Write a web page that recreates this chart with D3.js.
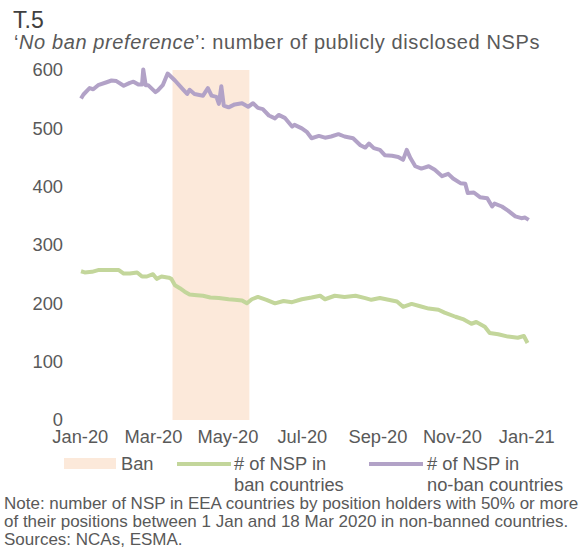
<!DOCTYPE html>
<html>
<head>
<meta charset="utf-8">
<script src="https://cdn.jsdelivr.net/npm/d3@7"></script>
<style>
    body { margin: 0; background: #ffffff; }
    text { font-family: "Liberation Sans", Arial, sans-serif; }
</style>
</head>
<body>
<div id="chart"></div>
<script>
// Ban period (shaded band)
var ban_period = ["2020-03-17", "2020-05-19"];

// # of NSP in ban countries (green)
var ban_dates = ["2020-01-02","2020-01-05","2020-01-11","2020-01-16","2020-01-22","2020-01-27","2020-02-02","2020-02-06","2020-02-11","2020-02-17","2020-02-21","2020-02-25","2020-03-01","2020-03-04","2020-03-08","2020-03-14","2020-03-16","2020-03-19","2020-03-23","2020-03-27","2020-03-31","2020-04-06","2020-04-11","2020-04-17","2020-04-24","2020-05-02","2020-05-07","2020-05-13","2020-05-17","2020-05-21","2020-05-26","2020-06-02","2020-06-09","2020-06-16","2020-06-23","2020-07-01","2020-07-09","2020-07-16","2020-07-20","2020-07-28","2020-08-05","2020-08-14","2020-08-22","2020-08-27","2020-09-03","2020-09-10","2020-09-17","2020-09-22","2020-09-29","2020-10-06","2020-10-13","2020-10-21","2020-10-26","2020-11-04","2020-11-10","2020-11-17","2020-11-21","2020-11-28","2020-12-02","2020-12-09","2020-12-17","2020-12-25","2020-12-30","2021-01-02"];
var ban_values = [255,253,254,257,257,257,257,251,251,253,246,246,250,242,246,244,242,231,226,220,215,214,213,210,209,207,206,205,200,207,211,206,200,204,202,207,210,213,207,213,211,213,209,206,209,206,203,194,199,195,191,189,184,177,173,165,168,160,149,147,143,141,144,132];

// # of NSP in no-ban countries (purple)
var noban_dates = ["2020-01-02","2020-01-04","2020-01-09","2020-01-12","2020-01-16","2020-01-23","2020-01-27","2020-01-31","2020-02-06","2020-02-11","2020-02-14","2020-02-18","2020-02-21","2020-02-22","2020-02-24","2020-02-26","2020-03-03","2020-03-05","2020-03-09","2020-03-13","2020-03-16","2020-03-19","2020-03-25","2020-03-29","2020-03-31","2020-04-04","2020-04-11","2020-04-15","2020-04-18","2020-04-22","2020-04-24","2020-04-26","2020-04-28","2020-05-02","2020-05-07","2020-05-13","2020-05-18","2020-05-22","2020-05-26","2020-05-30","2020-06-04","2020-06-09","2020-06-12","2020-06-17","2020-06-23","2020-06-25","2020-07-01","2020-07-05","2020-07-09","2020-07-15","2020-07-20","2020-07-25","2020-07-31","2020-08-05","2020-08-12","2020-08-18","2020-08-22","2020-08-25","2020-08-29","2020-09-03","2020-09-07","2020-09-13","2020-09-18","2020-09-22","2020-09-25","2020-09-28","2020-10-02","2020-10-07","2020-10-13","2020-10-18","2020-10-24","2020-10-29","2020-11-02","2020-11-08","2020-11-12","2020-11-14","2020-11-19","2020-11-24","2020-11-30","2020-12-04","2020-12-06","2020-12-12","2020-12-17","2020-12-23","2020-12-28","2020-12-31","2021-01-03"];
var noban_values = [551,558,569,567,574,579,582,581,573,578,580,575,575,601,574,574,562,565,574,594,588,582,568,559,566,559,556,569,556,554,542,572,539,536,541,543,537,543,535,533,522,517,523,518,503,506,500,494,483,487,484,486,490,486,483,471,467,474,466,463,454,453,451,446,463,449,435,431,435,429,418,422,414,406,405,389,390,382,380,366,371,366,359,349,346,347,343];

// Axis ticks
var x_tick_dates = ["2020-01-01","2020-03-01","2020-05-01","2020-07-01","2020-09-01","2020-11-01","2021-01-01"];
var y_tick_values = [0, 100, 200, 300, 400, 500, 600];

var width = 588, height = 549;
var grey = "#595959";
var parse = d3.utcParse("%Y-%m-%d");

var svg = d3.select("#chart").append("svg")
    .attr("width", width)
    .attr("height", height);

// Scales
var x_scale = d3.scaleUtc()
    .domain([parse("2020-01-01"), parse("2021-01-01")])
    .range([79.8, 526.3]);

var y_scale = d3.scaleLinear()
    .domain([0, 600])
    .range([420, 70]);

// Ban band
svg.append("rect")
    .attr("x", x_scale(parse(ban_period[0])))
    .attr("y", y_scale(600))
    .attr("width", x_scale(parse(ban_period[1])) - x_scale(parse(ban_period[0])))
    .attr("height", y_scale(0) - y_scale(600))
    .attr("fill", "#fce9da");

// Axes (labels only, no lines)
var x_axis = d3.axisBottom(x_scale)
    .tickValues(x_tick_dates.map(parse))
    .tickSize(0)
    .tickPadding(10)
    .tickFormat(d3.utcFormat("%b-%y"));

var gx = svg.append("g")
    .attr("transform", "translate(0," + y_scale(0) + ")")
    .call(x_axis);

var y_axis = d3.axisLeft(y_scale)
    .tickValues(y_tick_values)
    .tickSize(0)
    .tickPadding(3);

var gy = svg.append("g")
    .attr("transform", "translate(66,0)")
    .call(y_axis);

[gx, gy].forEach(function(g) {
    g.select(".domain").remove();
    g.selectAll("text")
        .attr("fill", grey)
        .style("font-size", "18.3px")
        .style("font-family", "'Liberation Sans', Arial, sans-serif");
});

// Lines
var line = d3.line()
    .x(function(d) { return x_scale(d.date); })
    .y(function(d) { return y_scale(d.value); });

var ban_data = ban_dates.map(function(d, i) { return {date: parse(d), value: ban_values[i]}; });
var noban_data = noban_dates.map(function(d, i) { return {date: parse(d), value: noban_values[i]}; });

svg.append("path")
    .attr("d", line(ban_data))
    .attr("fill", "none")
    .attr("stroke", "#c3d69b")
    .attr("stroke-width", 4)
    .attr("stroke-linejoin", "round");

svg.append("path")
    .attr("d", line(noban_data))
    .attr("fill", "none")
    .attr("stroke", "#b2a2c7")
    .attr("stroke-width", 4)
    .attr("stroke-linejoin", "round");

// Title
svg.append("text")
    .attr("x", 13).attr("y", 28)
    .attr("fill", "#404040")
    .style("font-size", "23px")
    .text("T.5");

var sub = svg.append("text")
    .attr("x", 14).attr("y", 49)
    .attr("fill", grey)
    .style("font-size", "20px")
    .style("letter-spacing", "0.6px");
sub.append("tspan").text("\u2018");
sub.append("tspan").style("font-style", "italic").text("No ban preference");
sub.append("tspan").text("\u2019: number of publicly disclosed NSPs");

// Legend
var legend = svg.append("g").attr("fill", grey).style("font-size", "18.3px");

legend.append("rect")
    .attr("x", 64).attr("y", 458).attr("width", 52).attr("height", 11)
    .attr("fill", "#fce9da");
legend.append("text").attr("x", 121).attr("y", 470).text("Ban");

legend.append("line")
    .attr("x1", 177).attr("x2", 231).attr("y1", 464).attr("y2", 464)
    .attr("stroke", "#c3d69b").attr("stroke-width", 4);
legend.append("text").attr("x", 234).attr("y", 470).text("# of NSP in");
legend.append("text").attr("x", 234).attr("y", 491).text("ban countries");

legend.append("line")
    .attr("x1", 369).attr("x2", 423).attr("y1", 464).attr("y2", 464)
    .attr("stroke", "#b2a2c7").attr("stroke-width", 4);
legend.append("text").attr("x", 427).attr("y", 470).text("# of NSP in");
legend.append("text").attr("x", 427).attr("y", 491).text("no-ban countries");

// Note
var notes = [
    "Note: number of NSP in EEA countries by position holders with 50% or more",
    "of their positions between 1 Jan and 18 Mar 2020 in non-banned countries.",
    "Sources: NCAs, ESMA."
];
svg.append("g").selectAll("text")
    .data(notes)
    .enter().append("text")
    .attr("x", 4)
    .attr("y", function(d, i) { return 509 + i * 18; })
    .attr("fill", grey)
    .style("font-size", "17px")
    .text(function(d) { return d; });
</script>
</body>
</html>
